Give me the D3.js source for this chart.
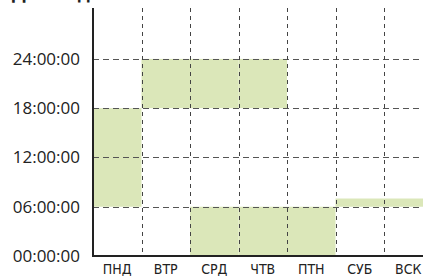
<!DOCTYPE html>
<html>
<head>
    <script src="https://d3js.org/d3.v7.min.js"></script>
    <style>
        body { margin: 0; background: #fff; }
        svg { display: block; }
    </style>
</head>
<body>
    <script>
        // days and hour spans (start, end) per day
        const days = ["ПНД", "ВТР", "СРД", "ЧТВ", "ПТН", "СУБ", "ВСК"];
        const spanStart = [6, 18, 0, 0, 0, 6, 6];
        const spanEnd = [18, 24, 6, 6, 6, 7, 7];
        const extraStart = [null, null, 18, 18, null, null, null];
        const extraEnd = [null, null, 24, 24, null, null, null];
        const hourTicks = [0, 6, 12, 18, 24];
        const tickLabels = ["00:00:00", "06:00:00", "12:00:00", "18:00:00", "24:00:00"];

        const width = 423, height = 276;
        const plotLeft = 93, bandW = 48.5;
        const plotTop = 8, plotBottom = 256;

        const svg = d3.select("body").append("svg")
            .attr("width", width)
            .attr("height", height);

        const x = d3.scaleBand()
            .domain(days)
            .range([plotLeft, plotLeft + bandW * days.length])
            .padding(0);

        const y = d3.scaleLinear()
            .domain([0, 30.2])
            .range([plotBottom, plotTop]);

        // blocks
        const blocks = [];
        days.forEach((d, i) => {
            blocks.push({ day: d, s: spanStart[i], e: spanEnd[i] });
            if (extraStart[i] !== null) blocks.push({ day: d, s: extraStart[i], e: extraEnd[i] });
        });

        svg.append("g").selectAll("rect")
            .data(blocks)
            .join("rect")
            .attr("x", d => x(d.day))
            .attr("width", x.bandwidth())
            .attr("y", d => y(d.e))
            .attr("height", d => y(d.s) - y(d.e))
            .attr("fill", "#dbe7b9");

        // horizontal grid
        svg.append("g").selectAll("line")
            .data(hourTicks.filter(h => h > 0))
            .join("line")
            .attr("x1", plotLeft)
            .attr("x2", width)
            .attr("y1", d => Math.round(y(d)) + 0.5)
            .attr("y2", d => Math.round(y(d)) + 0.5)
            .attr("stroke", "#555")
            .attr("stroke-dasharray", "6,4");

        // vertical grid
        svg.append("g").selectAll("line")
            .data(days.slice(1))
            .join("line")
            .attr("x1", d => Math.round(x(d)) + 0.5)
            .attr("x2", d => Math.round(x(d)) + 0.5)
            .attr("y1", plotTop)
            .attr("y2", plotBottom)
            .attr("stroke", "#444")
            .attr("stroke-dasharray", "4,4");

        // y axis
        const yAxis = d3.axisLeft(y)
            .tickValues(hourTicks)
            .tickFormat((d, i) => tickLabels[i])
            .tickSize(0)
            .tickPadding(13);
        const gy = svg.append("g")
            .attr("transform", `translate(${plotLeft},0)`)
            .call(yAxis);
        gy.select(".domain").remove();
        gy.selectAll("text")
            .attr("font-family", "'Open Sans', sans-serif")
            .attr("font-size", 17)
            .attr("fill", "#222");

        // x axis
        const xAxis = d3.axisBottom(x).tickSize(0).tickPadding(8);
        const gx = svg.append("g")
            .attr("transform", `translate(0,${plotBottom})`)
            .call(xAxis);
        gx.select(".domain").remove();
        gx.selectAll("text")
            .attr("font-family", "'Liberation Sans Narrow', 'DejaVu Sans Condensed', sans-serif")
            .attr("font-size", 14)
            .attr("fill", "#222");

        // axis lines
        svg.append("line")
            .attr("x1", plotLeft).attr("x2", plotLeft)
            .attr("y1", plotTop).attr("y2", plotBottom + 1)
            .attr("stroke", "#222").attr("stroke-width", 2);
        svg.append("line")
            .attr("x1", plotLeft - 1).attr("x2", width)
            .attr("y1", plotBottom).attr("y2", plotBottom)
            .attr("stroke", "#222").attr("stroke-width", 2);

        // title, mostly cut off at the top (as in the reference)
        svg.append("text")
            .attr("x", 12)
            .attr("y", -1)
            .attr("font-family", "'Open Sans', sans-serif")
            .attr("font-weight", "bold")
            .attr("font-size", 18)
            .attr("fill", "#222")
            .text("Дни недели");
    </script>
</body>
</html>
